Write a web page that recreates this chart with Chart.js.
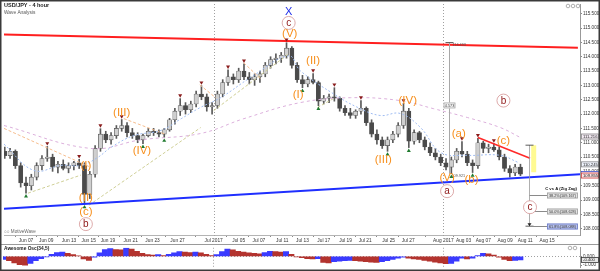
<!DOCTYPE html>
<html>
<head>
<meta charset="utf-8">
<script src="https://cdn.jsdelivr.net/npm/chart.js@4.4.0/dist/chart.umd.min.js"></script>
<style>
  html, body { margin: 0; padding: 0; background: #fff; }
  #wrap { position: relative; width: 600px; height: 271px; overflow: hidden; }
  #priceChart { position: absolute; left: 0; top: 0; }
  #oscChart { position: absolute; left: 0; top: 244px; }
</style>
</head>
<body>
<div id="wrap">
  <canvas id="priceChart" width="600" height="244"></canvas>
  <canvas id="oscChart" width="600" height="27"></canvas>
</div>
<script>
// USD/JPY 4 hour, one candle per half trading day. Day 0 = Jun 07 2017
const firstDay = -2
const candleStep = 0.5
const xMin = -2.07
const xMax = 52.1

const tickDays = [0, 1.9, 4.05, 5.9, 7.7, 9.85, 11.9, 14.25, 17.65, 20, 21.9, 24.1, 26, 28, 30.05, 31.9, 34.1, 35.95, 39.25, 41.15, 43, 45.05, 46.95, 49]
const tickLabels = ["Jun 07", "Jun 09", "Jun 13", "Jun 15", "Jun 19", "Jun 21", "Jun 23", "Jun 27", "Jul 2017", "Jul 05", "Jul 07", "Jul 11", "Jul 13", "Jul 17", "Jul 19", "Jul 21", "Jul 25", "Jul 27", "Aug 2017", "Aug 03", "Aug 07", "Aug 09", "Aug 11", "Aug 15"]
const monthStartDays = [17.65, 39.25]
const priceTicks = [108, 108.5, 109, 109.5, 110, 110.5, 111, 111.5, 112, 112.5, 113, 113.5, 114, 114.5, 115, 115.5]
const aoTicks = [0, -1]

const opens = [110.70, 110.55, 110.70, 110.20, 109.60, 109.50, 109.80, 110.20, 110.45, 110.50,
  110.15, 110.25, 110.10, 110.20, 110.30, 110.20, 109.20, 109.90, 110.80, 111.30,
  111.10, 111.25, 111.50, 111.60, 111.35, 111.25, 111.10, 111.25, 111.40, 111.35,
  111.30, 111.45, 111.80, 112.10, 112.30, 112.15, 112.35, 112.70, 112.60, 112.25,
  112.30, 112.70, 113.10, 113.30, 113.20, 113.50, 113.30, 113.20, 113.30, 113.40,
  113.70, 113.90, 113.95, 114.05, 114.30, 113.70, 113.20, 113.05, 113.20, 113.10,
  112.45, 112.55, 112.60, 112.55, 112.20, 112.05, 111.95, 112.10, 112.20, 111.70,
  111.30, 111.10, 110.90, 111.10, 111.30, 111.60, 112.10, 111.05, 111.35, 111.10,
  110.85, 110.65, 110.50, 110.30, 110.15, 110.40, 110.70, 110.60, 110.30, 110.20,
  111.00, 110.80, 110.85, 110.75, 110.50, 110.10, 109.95, 110.15]
const highs = [110.85, 110.80, 110.75, 110.30, 109.80, 109.90, 110.30, 110.55, 110.87, 110.60,
  110.35, 110.40, 110.30, 110.35, 110.42, 110.30, 110.00, 110.90, 111.49, 111.40,
  111.35, 111.60, 111.81, 111.70, 111.50, 111.35, 111.30, 111.50, 111.50, 111.45,
  111.50, 111.85, 112.20, 112.54, 112.40, 112.45, 112.80, 112.99, 112.70, 112.40,
  112.80, 113.20, 113.54, 113.40, 113.60, 113.75, 113.45, 113.40, 113.50, 113.80,
  114.00, 114.10, 114.15, 114.49, 114.35, 113.80, 113.35, 113.30, 113.41, 113.15,
  112.65, 112.70, 112.92, 112.60, 112.30, 112.20, 112.15, 112.47, 112.25, 111.80,
  111.45, 111.20, 111.20, 111.40, 111.70, 112.37, 112.20, 111.45, 111.40, 111.20,
  111.00, 110.80, 110.60, 110.45, 110.50, 110.80, 111.04, 110.70, 110.40, 111.15,
  111.05, 110.95, 110.97, 110.85, 110.60, 110.20, 110.25, 110.25]
const lows = [110.45, 110.45, 110.10, 109.45, 109.24, 109.35, 109.70, 110.05, 110.35, 110.00,
  109.95, 110.05, 109.95, 110.05, 110.10, 108.86, 109.05, 109.80, 110.70, 111.00,
  110.95, 111.15, 111.40, 111.20, 111.15, 111.00, 110.97, 111.20, 111.25, 111.20,
  111.18, 111.40, 111.65, 111.95, 112.00, 112.05, 112.25, 112.50, 112.10, 112.00,
  112.20, 112.60, 113.00, 113.05, 113.10, 113.20, 113.05, 113.00, 113.10, 113.30,
  113.60, 113.75, 113.80, 113.95, 113.60, 113.10, 112.92, 112.95, 113.05, 112.29,
  112.35, 112.40, 112.45, 112.10, 111.95, 111.85, 111.85, 112.00, 111.60, 111.20,
  110.95, 110.80, 110.70, 111.00, 111.20, 111.50, 110.83, 110.95, 111.00, 110.75,
  110.55, 110.40, 110.20, 110.05, 109.92, 110.30, 110.50, 110.20, 109.96, 110.10,
  110.65, 110.65, 110.70, 110.40, 110.00, 109.80, 109.85, 109.85]
const closes = [110.55, 110.70, 110.20, 109.60, 109.50, 109.80, 110.20, 110.45, 110.50, 110.15,
  110.25, 110.10, 110.20, 110.30, 110.20, 109.20, 109.90, 110.80, 111.30, 111.10,
  111.25, 111.50, 111.60, 111.35, 111.25, 111.10, 111.25, 111.40, 111.35, 111.30,
  111.45, 111.80, 112.10, 112.30, 112.15, 112.35, 112.70, 112.60, 112.25, 112.30,
  112.70, 113.10, 113.30, 113.20, 113.50, 113.30, 113.20, 113.30, 113.40, 113.70,
  113.90, 113.95, 114.05, 114.30, 113.70, 113.20, 113.05, 113.20, 113.10, 112.45,
  112.55, 112.60, 112.55, 112.20, 112.05, 111.95, 112.10, 112.20, 111.70, 111.30,
  111.10, 110.90, 111.10, 111.30, 111.60, 112.10, 111.05, 111.35, 111.10, 110.85,
  110.65, 110.50, 110.30, 110.15, 110.40, 110.70, 110.60, 110.30, 110.20, 111.00,
  110.80, 110.85, 110.75, 110.50, 110.10, 109.95, 110.15, 109.90]

// Awesome Oscillator (34,5), same candles
const aoValues = [-0.35, -0.5, -0.75, -0.95, -1.0, -0.8, -0.5, -0.25, -0.05, 0.25,
  0.45, 0.5, 0.35, 0.2, 0.05, -0.3, -0.45, -0.1, 0.4, 0.8,
  0.9, 0.8, 0.75, 0.95, 0.85, 0.6, 0.35, 0.2, 0.15, 0.2,
  0.1, 0.25, 0.4, 0.55, 0.5, 0.45, 0.5, 0.4, 0.25, 0.1,
  0.2, 0.55, 0.85, 0.75, 0.6, 0.5, 0.4, 0.35, 0.3, 0.45,
  0.6, 0.55, 0.5, 0.55, 0.25, -0.05, -0.15, -0.25, -0.3, -0.25,
  -0.7, -0.75, -0.6, -0.55, -0.5, -0.45, -0.5, -0.55, -0.6, -0.65,
  -0.7, -0.6, -0.5, -0.35, -0.2, -0.1, -0.2, -0.3, -0.35, -0.45,
  -0.55, -0.65, -0.75, -0.85, -0.8, -0.55, -0.2, -0.3, -0.2, 0.1,
  0.35, 0.3, 0.15, -0.1, -0.35, -0.5, -0.45, -0.4]

// moving averages
const fastMaDays = [-2.07, 0.75, 3.3, 5.2, 6.76, 8.0, 10.15, 12.7, 14.6, 16.4, 18.3, 21.1, 24.7, 25.8, 28.9, 31.2, 33.3, 35.2, 37.1, 39.0, 41.5, 44.6, 46.3]
const fastMaValues = [110.95, 110.03, 110.21, 110.21, 110.49, 110.84, 111.25, 111.43, 111.84, 112.23, 112.57, 113.27, 114.03, 113.51, 112.71, 112.23, 111.95, 112.02, 111.53, 110.66, 110.56, 110.56, 110.31]
const slowMaDays = [-2.07, 6.1, 10.8, 16.4, 20.5, 25.8, 30.5, 35.2, 38.3, 41.5, 44.6, 46.5]
const slowMaValues = [111.60, 110.80, 111.10, 111.32, 111.84, 112.40, 112.57, 112.47, 112.19, 111.88, 111.53, 111.18]

// trend lines [day, price]
const resistanceDays = [-2.07, 51.9]
const resistancePrices = [114.78, 114.31]
const supportDays = [-2.07, 52.1]
const supportPrices = [108.70, 109.90]
const waveCLineDays = [42.5, 47.4]
const waveCLinePrices = [111.18, 110.46]
const orangeGuides = [[-2.07, 111.50, 6.10, 110.14], [9.2, 111.84, 13.15, 111.29], [16.34, 113.02, 17.84, 112.57], [20.47, 113.79, 22.07, 113.23]]
const khakiGuides = [[0.19, 109.24, 5.16, 109.87], [5.92, 108.82, 16.43, 111.53], [17.65, 112.12, 24.7, 114.10], [27.42, 112.23, 28.92, 112.54]]

// swing markers (candle indices)
const swingHighs = [8, 14, 18, 22, 33, 37, 42, 45, 53, 58, 62, 67, 75, 86, 89, 92]
const swingLows = [4, 15, 26, 30, 56, 59, 72, 76, 84, 88]

// wave labels
const waveText = ["X", "c", "(V)", "(I)", "(II)", "(c)", "b", "(III)", "(IV)", "(I)", "(II)", "(III)", "(IV)", "(V)", "a", "(a)", "(b)", "(c)", "b", "c"]
const waveDegree = ["cycle", "primary", "inter", "inter", "inter", "inter", "primary", "inter", "inter", "inter", "inter", "inter", "inter", "inter", "primary", "inter", "inter", "inter", "primary", "primary"]
const waveDay = [24.7, 24.7, 24.8, 5.63, 5.63, 5.63, 5.63, 9.0, 10.9, 25.6, 27.0, 33.6, 35.9, 39.6, 39.6, 40.7, 41.9, 44.9, 44.9, 47.4]
const wavePrice = [115.56, 115.18, 114.80, 110.18, 109.07, 108.58, 108.16, 112.05, 110.73, 112.68, 113.86, 110.39, 112.47, 109.76, 109.31, 111.32, 109.69, 111.08, 112.47, 108.75]

// measurements
const drop = { day: 39.8, high: 114.493, low: 109.921, size: 4.573, labelPrice: 112.3 }
const fibDay = 47.3
const fibTop = 110.914
const fibRatios = [0.382, 0.5, 0.618]
const fibPrices = [109.167, 108.628, 108.088]
const zoneDays = [47.51, 47.98]
const zonePrices = [110.91, 109.97]
const axisMarkers = [111.216, 110.245, 109.905, 109.855]

const FONT = '"Liberation Sans", Arial, sans-serif'
const font = (size, bold) => (bold ? "bold " : "") + size + "px " + FONT

const candleDays = opens.map((_, i) => firstDay + i * candleStep)
const xy = (days, vals) => days.map((d, i) => ({ x: d, y: vals[i] }))

function vline(ctx, x, y1, y2) {
  ctx.beginPath()
  ctx.moveTo(x, y1)
  ctx.lineTo(x, y2)
  ctx.stroke()
}
function hline(ctx, x1, x2, y) {
  ctx.beginPath()
  ctx.moveTo(x1, y)
  ctx.lineTo(x2, y)
  ctx.stroke()
}
function box(ctx, x, y, w, h, fill, stroke) {
  ctx.fillStyle = fill
  ctx.fillRect(x, y, w, h)
  ctx.strokeStyle = stroke
  ctx.lineWidth = 0.8
  ctx.strokeRect(x + 0.5, y + 0.5, w - 1, h - 1)
}
function frame(ctx, w, h, sides) {
  ctx.fillStyle = "#3a3a3a"
  if (sides.includes("t")) ctx.fillRect(0, 0, w, 1.5)
  if (sides.includes("b")) ctx.fillRect(0, h - 1.5, w, 1.5)
  ctx.fillRect(0, 0, 1.5, h)
  ctx.fillRect(w - 1.5, 0, 1.5, h)
}
function icons(ctx, x, y, n) {
  ctx.strokeStyle = "#9a9a9a"
  ctx.lineWidth = 0.8
  for (let i = 0; i < n; i++) {
    ctx.beginPath()
    ctx.arc(x + i * 5, y, 1.8, 0, Math.PI * 2)
    ctx.stroke()
  }
}

const priceOverlay = {
  id: "priceOverlay",
  beforeDatasetsDraw(chart) {
    const { ctx, chartArea: a, scales: { x, y } } = chart
    ctx.save()
    ctx.strokeStyle = "#a0a0a0"
    ctx.lineWidth = 1
    ctx.setLineDash([1, 2])
    monthStartDays.forEach((d) => {
      const px = Math.round(x.getPixelForValue(d)) + 0.5
      vline(ctx, px, a.top, a.bottom + 3)
    })
    ctx.restore()
  },
  afterDatasetsDraw(chart) {
    const { ctx, chartArea: a, scales: { x, y } } = chart
    ctx.save()

    // yellow target zone
    const zx1 = x.getPixelForValue(zoneDays[0])
    const zx2 = x.getPixelForValue(zoneDays[1])
    const zy1 = y.getPixelForValue(zonePrices[0])
    const zy2 = y.getPixelForValue(zonePrices[1])
    ctx.fillStyle = "rgba(255, 250, 140, 0.95)"
    ctx.fillRect(zx1, zy1, zx2 - zx1, zy2 - zy1)

    // 4.573 drop measurement
    const dx = Math.round(x.getPixelForValue(drop.day)) + 0.5
    const dTop = y.getPixelForValue(drop.high)
    const dBot = y.getPixelForValue(drop.low)
    ctx.strokeStyle = "#a8a8a8"
    ctx.lineWidth = 1
    vline(ctx, dx, dTop, dBot)
    ctx.strokeStyle = "#555"
    hline(ctx, dx - 4, dx + 4, dTop)
    ctx.font = font(3.8)
    ctx.fillStyle = "#555"
    ctx.textBaseline = "middle"
    ctx.fillText(drop.high.toFixed(3), dx + 3, dTop + 2)
    ctx.fillText(drop.low.toFixed(3), dx + 2, dBot + 2)
    const my = y.getPixelForValue(drop.labelPrice)
    box(ctx, dx - 6, my - 3, 12, 6, "#f4f4f4", "#aaa")
    ctx.fillStyle = "#444"
    ctx.textAlign = "center"
    ctx.fillText(drop.size.toFixed(3), dx, my + 0.3)
    ctx.textAlign = "left"

    // C vs A fib projection
    const fx = Math.round(x.getPixelForValue(fibDay)) + 0.5
    const fTop = y.getPixelForValue(fibTop)
    const fBot = y.getPixelForValue(fibPrices[fibPrices.length - 1])
    ctx.strokeStyle = "#9a9a9a"
    vline(ctx, fx, fTop, fBot)
    ctx.strokeStyle = "#333"
    hline(ctx, fx - 4, fx + 4, fTop)
    hline(ctx, fx - 4, fx + 4, fBot)
    ctx.fillStyle = "#222"
    ctx.beginPath()
    ctx.moveTo(fx - 2, fBot - 3)
    ctx.lineTo(fx + 2, fBot - 3)
    ctx.lineTo(fx, fBot)
    ctx.fill()
    const boxRight = a.right - 2
    fibPrices.forEach((p, i) => {
      const py = Math.round(y.getPixelForValue(p)) + 0.5
      const txt = (fibRatios[i] * 100).toFixed(1) + "%(" + p.toFixed(3) + ")"
      ctx.font = font(3.8)
      const w = ctx.measureText(txt).width + 4
      ctx.strokeStyle = "#8a8a8a"
      ctx.lineWidth = 1
      hline(ctx, fx, boxRight - w, py)
      const last = i === fibPrices.length - 1
      box(ctx, boxRight - w, py - 3, w, 6, last ? "#b8c2ee" : "#e4e4e4", last ? "#6d7cc4" : "#9c9c9c")
      ctx.fillStyle = "#333"
      ctx.fillText(txt, boxRight - w + 2, py + 0.3)
    })
    ctx.font = font(4.2, true)
    ctx.fillStyle = "#111"
    ctx.textAlign = "right"
    ctx.fillText("C vs A (Zig Zag)", boxRight - 1, y.getPixelForValue(fibPrices[0]) - 6)
    ctx.textAlign = "left"

    // wave labels
    waveText.forEach((t, i) => {
      const px = x.getPixelForValue(waveDay[i])
      const py = y.getPixelForValue(wavePrice[i])
      ctx.textAlign = "center"
      ctx.textBaseline = "middle"
      if (waveDegree[i] === "primary") {
        ctx.beginPath()
        ctx.arc(px, py, 6.5, 0, Math.PI * 2)
        ctx.fillStyle = "#fff"
        ctx.fill()
        ctx.strokeStyle = "#d9a0a0"
        ctx.lineWidth = 0.9
        ctx.stroke()
        ctx.fillStyle = "#8e1616"
        ctx.font = font(10)
        ctx.fillText(t, px, py + 0.5)
      } else if (waveDegree[i] === "cycle") {
        ctx.fillStyle = "#1f2ee8"
        ctx.font = font(11)
        ctx.fillText(t, px, py)
      } else {
        ctx.fillStyle = "#f7901e"
        ctx.font = font(11.5)
        ctx.fillText(t, px, py)
      }
    })
    ctx.restore()
  },
  afterDraw(chart) {
    const { ctx, chartArea: a, scales: { y }, width, height } = chart
    ctx.save()
    // titles
    ctx.fillStyle = "#222"
    ctx.font = font(5.5, true)
    ctx.textBaseline = "top"
    ctx.fillText("USD/JPY - 4 hour", 4, 3)
    ctx.fillStyle = "#555"
    ctx.font = font(4.8)
    ctx.fillText("Wave Analysis", 4, 10)
    ctx.font = font(4.6)
    ctx.fillStyle = "#666"
    ctx.fillText("\u25CB\u25CB MotiveWave", 4, a.bottom - 5.5)
    icons(ctx, a.right - 12, 6, 3)

    // price markers on the axis
    const fills = ["#f3eaf3", "#eef2fb", "#dfe6fb", "#fbe3e3"]
    const strokes = ["#8a8a8a", "#8a8a8a", "#4455cc", "#cc4444"]
    ctx.textBaseline = "middle"
    axisMarkers.forEach((v, i) => {
      const py = y.getPixelForValue(v)
      box(ctx, a.right + 1, py - 3, 18, 6, fills[i], strokes[i])
      ctx.fillStyle = "#222"
      ctx.font = font(4.2)
      ctx.fillText(v.toFixed(3), a.right + 3, py + 0.3)
    })
    frame(ctx, width, height, "t")
    ctx.restore()
  },
}

const guideSets = (guides, color) => guides.map((g) => ({
  type: "line",
  data: [{ x: g[0], y: g[1] }, { x: g[2], y: g[3] }],
  borderColor: color,
  borderWidth: 1,
  borderDash: [3, 2],
  pointRadius: 0,
  order: 3,
}))

new Chart(document.getElementById("priceChart"), {
  type: "bar",
  data: {
    datasets: [
      {
        type: "line",
        data: swingHighs.map((i) => ({ x: candleDays[i], y: highs[i] + 0.11 })),
        showLine: false,
        pointStyle: "triangle",
        pointRotation: 180,
        pointRadius: 2.3,
        pointBackgroundColor: "#8a1c1c",
        pointBorderWidth: 0,
        order: 0,
      },
      {
        type: "line",
        data: swingLows.map((i) => ({ x: candleDays[i], y: lows[i] - 0.11 })),
        showLine: false,
        pointStyle: "triangle",
        pointRadius: 2.3,
        pointBackgroundColor: "#1f7a2e",
        pointBorderWidth: 0,
        order: 0,
      },
      {
        type: "line",
        data: xy(resistanceDays, resistancePrices),
        borderColor: "#ff1f1f",
        borderWidth: 2,
        pointRadius: 0,
        order: 1,
      },
      {
        type: "line",
        data: xy(supportDays, supportPrices),
        borderColor: "#1f2fff",
        borderWidth: 2,
        pointRadius: 0,
        order: 1,
      },
      {
        type: "line",
        data: xy(waveCLineDays, waveCLinePrices),
        borderColor: "#ff2a2a",
        borderWidth: 1.6,
        pointRadius: 0,
        order: 1,
      },
      {
        type: "line",
        data: xy(fastMaDays, fastMaValues),
        borderColor: "#9fbcf2",
        borderWidth: 1,
        borderDash: [2, 2],
        tension: 0.4,
        pointRadius: 0,
        order: 2,
      },
      {
        type: "line",
        data: xy(slowMaDays, slowMaValues),
        borderColor: "#dcb0dc",
        borderWidth: 1,
        borderDash: [3, 3],
        tension: 0.4,
        pointRadius: 0,
        order: 2,
      },
      ...guideSets(orangeGuides, "#f6bd8e"),
      ...guideSets(khakiGuides, "#cfcf96"),
      {
        data: candleDays.map((d, i) => ({ x: d, y: [opens[i], closes[i]] })),
        backgroundColor: opens.map((o, i) => (closes[i] >= o ? "#cfcfcf" : "#4a4a4a")),
        borderColor: "#505050",
        borderWidth: 0.6,
        borderSkipped: false,
        barThickness: 4.2,
        minBarLength: 1,
        grouped: false,
        order: 4,
      },
      {
        data: candleDays.map((d, i) => ({ x: d, y: [lows[i], highs[i]] })),
        backgroundColor: "#5a5a5a",
        barThickness: 1,
        grouped: false,
        order: 5,
      },
    ],
  },
  options: {
    responsive: false,
    animation: false,
    layout: { padding: { left: 3, top: 3, right: 0, bottom: 0 } },
    plugins: { legend: { display: false }, tooltip: { enabled: false } },
    scales: {
      x: {
        type: "linear",
        min: xMin,
        max: xMax,
        offset: false,
        afterBuildTicks: (s) => { s.ticks = tickDays.map((v) => ({ value: v })) },
        afterFit: (s) => { s.height = 9 },
        ticks: {
          callback: (v, i) => tickLabels[i],
          font: { size: 4.8, family: FONT },
          color: "#333",
          padding: 1,
          maxRotation: 0,
          autoSkip: false,
        },
        grid: { drawOnChartArea: false, tickLength: 2, color: "#888" },
        border: { color: "#b4b4b4" },
      },
      y: {
        position: "right",
        min: 107.78,
        max: 115.84,
        afterBuildTicks: (s) => { s.ticks = priceTicks.map((v) => ({ value: v })) },
        afterFit: (s) => { s.width = 20 },
        ticks: {
          callback: (v) => v.toFixed(3),
          font: { size: 4.6, family: FONT },
          color: "#333",
          padding: 1,
        },
        grid: { drawOnChartArea: false, tickLength: 2, color: "#888" },
        border: { color: "#999", dash: [1, 1] },
      },
    },
  },
  plugins: [priceOverlay],
})

// Awesome Oscillator panel
const oscOverlay = {
  id: "oscOverlay",
  beforeDatasetsDraw(chart) {
    const { ctx, chartArea: a, scales: { x, y } } = chart
    ctx.save()
    ctx.strokeStyle = "#a0a0a0"
    ctx.lineWidth = 1
    ctx.setLineDash([1, 2])
    monthStartDays.forEach((d) => {
      const px = Math.round(x.getPixelForValue(d)) + 0.5
      vline(ctx, px, a.top, a.bottom)
    })
    hline(ctx, a.left, a.right, Math.round(y.getPixelForValue(0)) + 0.5)
    ctx.restore()
  },
  afterDraw(chart) {
    const { ctx, chartArea: a, scales: { y }, width, height } = chart
    ctx.save()
    ctx.strokeStyle = "#9a9a9a"
    ctx.lineWidth = 1
    hline(ctx, 0, width, 0.5)
    ctx.font = font(4.8, true)
    ctx.fillStyle = "#222"
    ctx.textBaseline = "top"
    ctx.fillText("Awesome Osc(34,5)", 4, 2.5)
    icons(ctx, a.right - 10, 4, 2)
    const last = aoValues[aoValues.length - 1]
    const py = y.getPixelForValue(last)
    box(ctx, a.right + 1, py - 3, 18, 6, "#e8e8e8", "#333")
    ctx.fillStyle = "#222"
    ctx.font = font(4.2)
    ctx.textBaseline = "middle"
    ctx.fillText(last.toFixed(3), a.right + 3, py + 0.3)
    frame(ctx, width, height, "b")
    ctx.restore()
  },
}

new Chart(document.getElementById("oscChart"), {
  type: "bar",
  data: {
    datasets: [
      {
        data: xy(candleDays, aoValues),
        backgroundColor: aoValues.map((v, i) => (i > 0 && v < aoValues[i - 1] ? "#b3332e" : "#3a3aff")),
        barPercentage: 1,
        categoryPercentage: 1,
        grouped: false,
      },
    ],
  },
  options: {
    responsive: false,
    animation: false,
    layout: { padding: { left: 3, top: 0, right: 0, bottom: 0 } },
    plugins: { legend: { display: false }, tooltip: { enabled: false } },
    scales: {
      x: { type: "linear", min: xMin, max: xMax, offset: false, display: false },
      y: {
        position: "right",
        min: -1.25,
        max: 1.0,
        afterBuildTicks: (s) => { s.ticks = aoTicks.map((v) => ({ value: v })) },
        afterFit: (s) => { s.width = 20 },
        ticks: {
          callback: (v) => v.toFixed(3),
          font: { size: 4.6, family: FONT },
          color: "#333",
          padding: 1,
        },
        grid: { drawOnChartArea: false, tickLength: 2, color: "#888" },
        border: { color: "#999", dash: [1, 1] },
      },
    },
  },
  plugins: [oscOverlay],
})
</script>
</body>
</html>
